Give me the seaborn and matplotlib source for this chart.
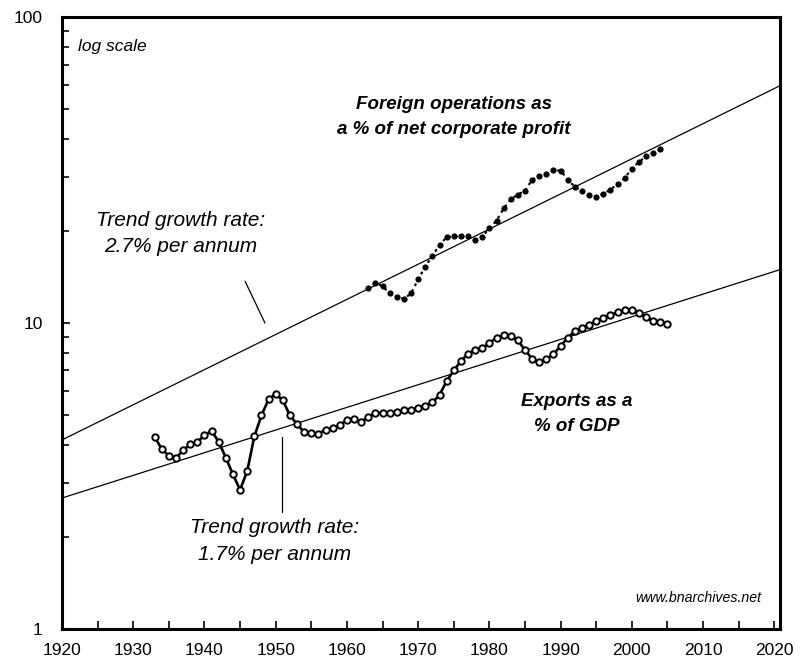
import numpy as np
import matplotlib
matplotlib.use("Agg")
import matplotlib.pyplot as plt
import seaborn as sns
from matplotlib.ticker import LogLocator, FixedLocator, NullFormatter, FuncFormatter

# -------------------------------------------------
# DATOS
# -------------------------------------------------
exp_years = list(range(1933, 2006))
exp_values = [4.24, 3.88, 3.68, 3.62, 3.84, 4.01, 4.08, 4.30, 4.44, 4.09,
              3.63, 3.20, 2.85, 3.28, 4.26, 4.99, 5.63, 5.87, 5.59, 4.99,
              4.67, 4.40, 4.37, 4.35, 4.48, 4.53, 4.64, 4.82, 4.85, 4.76,
              4.93, 5.09, 5.09, 5.09, 5.13, 5.18, 5.20, 5.29, 5.37, 5.50,
              5.82, 6.46, 7.00, 7.51, 7.94, 8.16, 8.27, 8.61, 8.95, 9.12,
              9.07, 8.78, 8.16, 7.64, 7.44, 7.61, 7.92, 8.41, 8.95, 9.42,
              9.66, 9.85, 10.16, 10.36, 10.62, 10.86, 11.00, 11.03, 10.78, 10.46,
              10.16, 10.09, 9.91]

for_years = list(range(1963, 2005))
for_values = [13.0, 13.5, 13.2, 12.5, 12.2, 12.0, 12.5, 13.9, 15.3, 16.6,
              18.0, 19.1, 19.2, 19.2, 19.2, 18.7, 19.1, 20.5, 21.6, 23.7,
              25.4, 26.3, 27.1, 29.4, 30.2, 30.7, 31.6, 31.5, 29.4, 27.9,
              27.1, 26.3, 25.9, 26.5, 27.3, 28.5, 29.8, 32.0, 33.6, 35.1,
              35.9, 37.0]

# lineas de tendencia (extremos)
trend_years = [1920, 2021]
trend_for = [4.15, 60.0]
trend_exp = [2.68, 15.0]

x_ticks = list(range(1920, 2021, 5))

# -------------------------------------------------
# GRAFICO
# -------------------------------------------------
sns.set_theme(style="white")
plt.rcParams['font.family'] = ['Liberation Sans', 'DejaVu Sans']
plt.rcParams['text.color'] = 'black'
plt.rcParams['xtick.bottom'] = True
plt.rcParams['ytick.left'] = True

fig = plt.figure(figsize=(8, 6.72), dpi=100)
ax = fig.add_axes([0.0775, 0.064, 0.8975, 0.9105])

ax.set_yscale("log")

# tendencias
sns.lineplot(x=trend_years, y=trend_for, ax=ax, color="black", linewidth=0.9)
sns.lineplot(x=trend_years, y=trend_exp, ax=ax, color="black", linewidth=0.9)

# operaciones externas (puntos)
ax.plot(for_years, for_values, color="black", linestyle=(0, (0.5, 2.5)),
        linewidth=1.6, dash_capstyle="round")
sns.scatterplot(x=for_years, y=for_values, ax=ax, color="black", s=20,
                edgecolor="black", linewidth=0, zorder=4)

# exportaciones
sns.lineplot(x=exp_years, y=exp_values, ax=ax, color="black", linewidth=1.9,
             marker="o", markersize=4.6, markerfacecolor="white",
             markeredgecolor="black", markeredgewidth=1.4, zorder=5)

# punteros
ax.plot([1945.7, 1948.5], [13.7, 10.0], color="black", linewidth=0.9)
ax.plot([1950.9, 1950.9], [4.24, 2.41], color="black", linewidth=0.9)

ax.set_xlim(1920, 2020.8)
ax.set_ylim(1, 100)

# ticks de 5 en 5, etiqueta solo cada 10
ax.xaxis.set_major_locator(FixedLocator(x_ticks))
ax.xaxis.set_major_formatter(
    FuncFormatter(lambda v, p: f"{int(round(v))}" if round(v) % 10 == 0 else ""))
ax.yaxis.set_major_locator(FixedLocator([1, 10, 100]))
ax.yaxis.set_major_formatter(FuncFormatter(lambda v, p: f"{v:g}"))
ax.yaxis.set_minor_locator(LogLocator(base=10, subs=np.arange(2, 10)))
ax.yaxis.set_minor_formatter(NullFormatter())

ax.tick_params(axis="both", which="both", direction="in", color="black",
               width=1.2, labelsize=12.5, labelcolor="black",
               bottom=True, left=True, top=False, right=False)
ax.tick_params(axis="x", which="major", length=6, pad=10)
ax.tick_params(axis="y", which="major", length=6, pad=14)
ax.tick_params(axis="y", which="minor", length=5)

for sp in ax.spines.values():
    sp.set_color("black")
    sp.set_linewidth(2.2)

ax.set_xlabel("")
ax.set_ylabel("")
ax.grid(False)

# textos
ax.text(1922.2, 80.4, "log scale", fontsize=12.5, style="italic",
        ha="left", va="center", color="black")
ax.text(1975.0, 47.1, "Foreign operations as\na % of net corporate profit",
        fontsize=13.5, style="italic", fontweight="bold", ha="center",
        va="center", multialignment="center", linespacing=1.65, color="black")
ax.text(1936.7, 19.6, "Trend growth rate:\n2.7% per annum", fontsize=15,
        style="italic", ha="center", va="center", linespacing=1.5,
        color="black")
ax.text(1992.2, 5.04, "Exports as a\n% of GDP", fontsize=13.5, style="italic",
        fontweight="bold", ha="center", va="center", linespacing=1.6,
        color="black")
ax.text(1949.9, 1.94, "Trend growth rate:\n1.7% per annum", fontsize=15,
        style="italic", ha="center", va="center", linespacing=1.5,
        color="black")
ax.text(2018.2, 1.26, "www.bnarchives.net", fontsize=10.2, style="italic",
        ha="right", va="center", color="black")

fig.savefig("out.png", dpi=100)
plt.close(fig)
